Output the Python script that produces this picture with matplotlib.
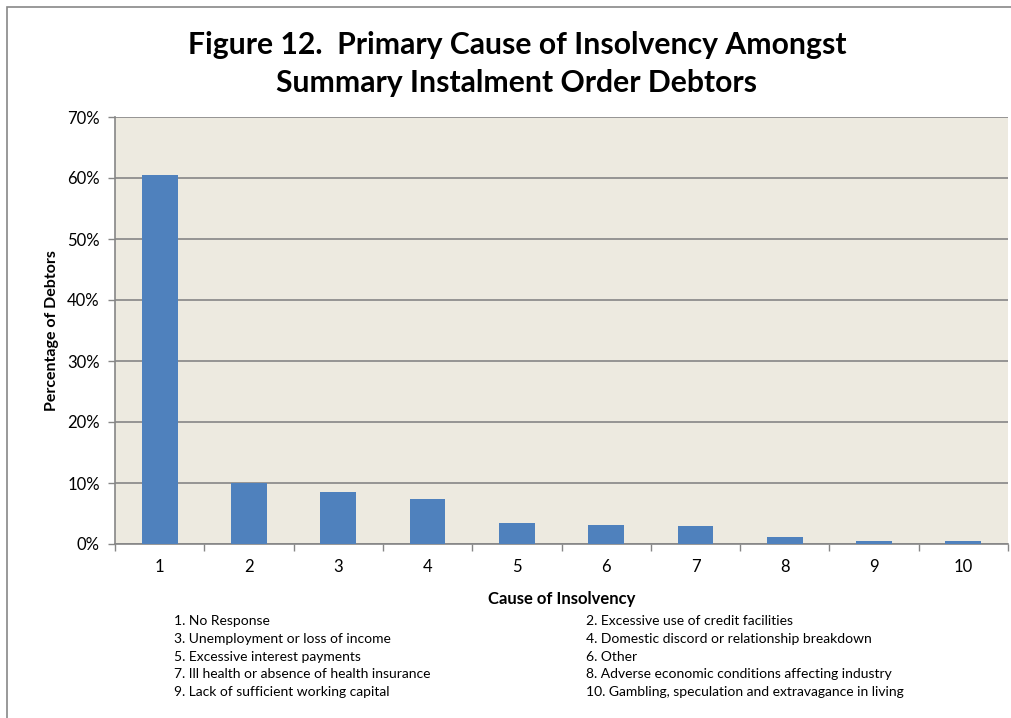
import numpy as np
import matplotlib
matplotlib.use('Agg')
import matplotlib.pyplot as plt
from matplotlib.ticker import PercentFormatter
from matplotlib.patches import Rectangle

# causes of insolvency, share of debtors (%)
causes = [1, 2, 3, 4, 5, 6, 7, 8, 9, 10]
pct = [60.5, 10.0, 8.6, 7.3, 3.5, 3.1, 2.9, 1.2, 0.55, 0.55]
cause_names = [
    "1. No Response",
    "2. Excessive use of credit facilities",
    "3. Unemployment or loss of income",
    "4. Domestic discord or relationship breakdown",
    "5. Excessive interest payments",
    "6. Other",
    "7. Ill health or absence of health insurance",
    "8. Adverse economic conditions affecting industry",
    "9. Lack of sufficient working capital",
    "10. Gambling, speculation and extravagance in living",
]

plt.rcParams['font.family'] = ['Lato', 'DejaVu Sans']

W, H = 1012, 718
fig = plt.figure(figsize=(W / 100, H / 100), dpi=100)

# outer frame of the chart
fig.patches.append(Rectangle((7 / W, -0.01), 1.02, (H - 7) / H + 0.01,
                             transform=fig.transFigure, fill=False,
                             edgecolor='#888888', linewidth=1.2))

ax = fig.add_axes([115 / W, (H - 544) / H, (1008 - 115) / W, (544 - 117) / H])
ax.set_facecolor('#EDEAE0')

x = np.arange(len(causes))
ax.bar(x, pct, width=0.4, color='#4F81BD', zorder=3)

ax.set_xlim(-0.5, len(causes) - 0.5)
ax.set_ylim(0, 70)
ax.set_yticks(np.arange(0, 71, 10))
ax.yaxis.set_major_formatter(PercentFormatter(decimals=0))
ax.yaxis.grid(True, color='#868686', linewidth=1.2, zorder=1)
ax.set_xticks(x)
ax.set_xticklabels([str(c) for c in causes])
ax.set_xticks(np.arange(-0.5, len(causes)), minor=True)
ax.tick_params(axis='x', which='major', length=0, pad=11, labelsize=12)
ax.tick_params(axis='x', which='minor', length=5, color='#868686', width=1)
ax.tick_params(axis='y', length=5, color='#868686', width=1, labelsize=12, pad=6)

for side in ['top', 'right']:
    ax.spines[side].set_visible(False)
for side in ['left', 'bottom']:
    ax.spines[side].set_color('#868686')
    ax.spines[side].set_linewidth(1.2)

ax.set_xlabel('Cause of Insolvency', fontsize=12, fontweight='bold', labelpad=11)
ax.set_ylabel('Percentage of Debtors', fontsize=11.5, fontweight='bold', labelpad=6)

fig.text(517 / W, 1 - 45 / H, 'Figure 12.  Primary Cause of Insolvency Amongst',
         ha='center', va='center', fontsize=21.7, fontweight='bold')
fig.text(517 / W, 1 - 83 / H, 'Summary Instalment Order Debtors',
         ha='center', va='center', fontsize=21.7, fontweight='bold')

# numbered key below the axis, two columns
for i, name in enumerate(cause_names):
    col, row = i % 2, i // 2
    xpos = 174 if col == 0 else 586
    ypos = 621 + row * 17.8
    fig.text(xpos / W, 1 - ypos / H, name, ha='left', va='center', fontsize=10)

fig.savefig('out.png', dpi=100)
